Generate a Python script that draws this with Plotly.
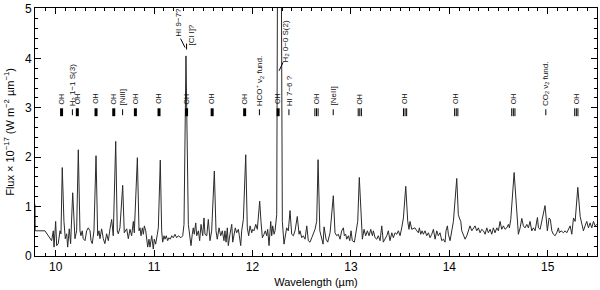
import plotly.graph_objects as go

# ---------------- spectrum data ----------------
wl_a = [9.790, 9.792, 9.891, 9.959, 9.976, 9.983, 10.000, 10.010, 10.026, 10.044,
        10.054, 10.067, 10.084, 10.098, 10.112, 10.122, 10.138, 10.152, 10.173, 10.186,
        10.196, 10.213, 10.230, 10.247, 10.257, 10.270, 10.280, 10.298, 10.315, 10.331,
        10.349, 10.359, 10.372, 10.389, 10.410, 10.427, 10.440, 10.450, 10.467, 10.484,
        10.500, 10.518, 10.535, 10.552, 10.569, 10.585, 10.610, 10.626, 10.636, 10.653,
        10.681, 10.697, 10.722, 10.738]
fx_a = [1.04, 0.51, 0.51, 0.31, 0.51, 0.18, 0.70, 0.21, 0.25, 0.51,
        0.45, 1.79, 0.70, 0.35, 0.45, 0.18, 0.55, 0.25, 1.28, 0.51,
        0.35, 0.51, 2.15, 0.51, 0.41, 0.51, 0.35, 0.31, 0.51, 0.57,
        0.51, 0.31, 0.25, 0.51, 2.03, 0.41, 0.51, 0.35, 0.55, 0.35,
        0.25, 0.45, 0.31, 0.55, 0.74, 0.41, 2.32, 0.51, 0.45, 0.57,
        1.43, 0.47, 0.55, 0.35]

wl_b = [10.755, 10.772, 10.789, 10.799, 10.830, 10.847, 10.857, 10.867, 10.881, 10.891,
        10.901, 10.915, 10.925, 10.935, 10.948, 10.958, 10.976, 10.992, 11.002, 11.016,
        11.033, 11.043, 11.063, 11.077, 11.087, 11.101, 11.111, 11.124, 11.138, 11.151,
        11.165, 11.179, 11.195, 11.212, 11.229, 11.246, 11.273, 11.291, 11.304, 11.324,
        11.348, 11.365, 11.375, 11.388, 11.398, 11.408, 11.423, 11.433, 11.450, 11.463,
        11.477, 11.494, 11.507, 11.517, 11.535, 11.551, 11.568, 11.585, 11.612, 11.629,
        11.642, 11.660, 11.677, 11.693, 11.710]
fx_b = [0.54, 0.41, 0.70, 0.47, 1.99, 0.51, 0.57, 0.41, 0.57, 0.44,
        0.61, 0.51, 0.34, 0.18, 0.34, 0.18, 0.41, 0.14, 0.34, 0.24,
        0.44, 0.57, 1.94, 0.51, 0.28, 0.41, 0.34, 0.41, 0.31, 0.37,
        0.34, 0.41, 0.37, 0.44, 0.37, 0.41, 0.37, 0.41, 0.64, 4.05,
        0.64, 0.41, 0.21, 0.44, 0.57, 0.44, 0.67, 0.41, 0.51, 0.31,
        0.64, 0.41, 0.77, 0.44, 0.41, 0.74, 0.31, 0.51, 1.72, 0.51,
        0.34, 0.57, 0.41, 0.51, 0.31]

wl_c = [11.720, 11.731, 11.744, 11.754, 11.771, 11.789, 11.799, 11.812, 11.825, 11.839,
        11.856, 11.866, 11.880, 11.890, 11.907, 11.931, 11.947, 11.961, 11.975, 11.992,
        12.002, 12.015, 12.033, 12.049, 12.073, 12.086, 12.100, 12.117, 12.130, 12.144,
        12.154, 12.168, 12.185, 12.195, 12.205, 12.219, 12.229, 12.246, 12.256, 12.290,
        12.303, 12.320, 12.337, 12.347, 12.364, 12.381, 12.398, 12.415, 12.432, 12.455,
        12.473, 12.483, 12.500, 12.516, 12.534, 12.551, 12.567, 12.584, 12.602, 12.618,
        12.635, 12.652, 12.666]
fx_c = [0.51, 0.28, 0.57, 0.21, 0.44, 0.64, 0.28, 0.41, 0.57, 0.47,
        0.54, 0.41, 0.21, 0.51, 0.74, 2.05, 0.57, 0.41, 0.61, 0.47,
        0.54, 0.51, 0.64, 0.54, 1.11, 0.70, 0.37, 0.44, 0.51, 0.41,
        0.54, 0.21, 0.70, 0.41, 0.61, 0.44, 0.51, 0.84, 7.00, 7.00,
        0.70, 0.24, 0.51, 0.57, 0.51, 0.92, 0.44, 0.41, 0.51, 0.80,
        0.44, 0.51, 0.37, 0.41, 0.34, 0.61, 0.31, 0.28, 0.37, 0.44,
        0.54, 0.70, 1.95]

wl_d = [12.684, 12.704, 12.717, 12.727, 12.747, 12.764, 12.788, 12.821, 12.838, 12.856,
        12.872, 12.889, 12.906, 12.923, 12.933, 12.947, 12.957, 12.974, 12.988, 13.001,
        13.014, 13.035, 13.049, 13.069, 13.085, 13.103, 13.116, 13.133, 13.150, 13.167,
        13.184, 13.201, 13.218, 13.228, 13.245, 13.262, 13.278, 13.296, 13.313, 13.329,
        13.347, 13.364, 13.380, 13.397, 13.415, 13.431, 13.448, 13.466, 13.482, 13.499,
        13.516, 13.533, 13.557, 13.577, 13.590, 13.600, 13.618, 13.641]
fx_d = [0.51, 0.31, 0.24, 0.59, 0.34, 0.28, 0.47, 1.22, 0.47, 0.41,
        0.44, 0.34, 0.51, 0.57, 0.41, 0.44, 0.34, 0.41, 0.31, 0.51,
        0.31, 0.28, 0.44, 0.70, 1.59, 0.70, 0.34, 0.54, 0.41, 0.51,
        0.41, 0.54, 0.41, 0.51, 0.37, 0.34, 0.41, 0.31, 0.61, 0.28,
        0.34, 0.41, 0.51, 0.31, 0.47, 0.37, 0.47, 0.44, 0.51, 0.41,
        0.57, 0.77, 1.41, 0.70, 0.54, 0.70, 0.54, 0.57]

wl_e = [13.650, 13.669, 13.685, 13.695, 13.709, 13.723, 13.736, 13.753, 13.770, 13.787,
        13.804, 13.821, 13.838, 13.855, 13.872, 13.888, 13.905, 13.923, 13.939, 13.956,
        13.966, 13.980, 13.990, 14.007, 14.024, 14.041, 14.075, 14.091, 14.101, 14.116,
        14.126, 14.142, 14.160, 14.177, 14.193, 14.210, 14.228, 14.244, 14.261, 14.278,
        14.295, 14.312, 14.329, 14.346, 14.363, 14.380, 14.396, 14.414, 14.431, 14.447,
        14.464, 14.482, 14.498, 14.515, 14.532, 14.549, 14.566, 14.583, 14.600]
fx_e = [0.57, 0.51, 0.47, 0.57, 0.44, 0.51, 0.44, 0.51, 0.41, 0.47,
        0.37, 0.44, 0.54, 0.34, 0.51, 0.41, 0.47, 0.31, 0.34, 0.28,
        0.51, 0.61, 0.44, 0.31, 0.47, 0.70, 1.57, 0.84, 0.77, 0.70,
        0.51, 0.44, 0.34, 0.41, 0.51, 0.61, 0.51, 0.57, 0.61, 0.51,
        0.57, 0.47, 0.54, 0.51, 0.44, 0.57, 0.47, 0.54, 0.44, 0.57,
        0.47, 0.57, 0.51, 0.70, 0.54, 0.61, 0.54, 0.57, 0.64]

wl_f = [14.610, 14.624, 14.658, 14.685, 14.701, 14.719, 14.736, 14.752, 14.769, 14.787,
        14.803, 14.820, 14.837, 14.854, 14.871, 14.895, 14.905, 14.922, 14.939, 14.972,
        14.996, 15.013, 15.026, 15.041, 15.057, 15.074, 15.091, 15.108, 15.118, 15.135,
        15.159, 15.176, 15.193, 15.210, 15.227, 15.244, 15.261, 15.278, 15.305, 15.329,
        15.346, 15.362, 15.379, 15.396, 15.413, 15.430, 15.447, 15.464, 15.481, 15.498]
fx_f = [0.57, 0.74, 1.69, 0.77, 0.44, 0.57, 0.76, 0.61, 0.57, 0.64,
        0.57, 0.70, 0.51, 0.57, 0.51, 0.78, 0.57, 0.54, 0.70, 1.02,
        0.51, 0.77, 0.74, 0.51, 0.44, 0.41, 0.47, 0.57, 0.47, 0.51,
        0.47, 0.51, 0.47, 0.54, 0.61, 0.44, 0.77, 0.70, 1.39, 0.80,
        0.67, 0.51, 0.61, 0.70, 0.57, 0.67, 0.57, 0.70, 0.61, 0.64]

# ---------------- line identifications ----------------
oh_lines = [10.06, 10.22, 10.41, 10.59, 10.81, 11.05, 11.33, 11.59, 11.92,
            12.26, 12.65, 13.09, 13.55, 14.07, 14.65, 15.29]
other_lines = [10.17, 10.68, 12.07, 12.37, 12.82, 14.98]
other_labels = ["H<sub>2</sub> 1−1 S(3)", "[NiII]", "HCO<sup>+</sup> ν<sub>2</sub> fund.",
                "HI 7−6 ?", "[NeII]", "CO<sub>2</sub> ν<sub>2</sub> fund."]
top_lines = [11.33, 12.28]
top_labels = [["HI 9−7?", "[Cl I]?"], ["H<sub>2</sub> 0−0 S(2)"]]

x_ticks = [10, 11, 12, 13, 14, 15]
y_ticks = [0, 1, 2, 3, 4, 5]

segments = [(wl_a, fx_a), (wl_b, fx_b), (wl_c, fx_c), (wl_d, fx_d), (wl_e, fx_e), (wl_f, fx_f)]
wave, flux = [], []
for i, (w, f) in enumerate(segments):
    assert len(w) == len(f), (i, len(w), len(f))
    wave += w
    flux += f

fig = go.Figure()
fig.add_trace(go.Scatter(x=wave, y=flux, mode="lines",
                         line=dict(color="#2a2a2a", width=1), hoverinfo="skip"))

XR = [9.79, 15.50]
PX = 562 / (XR[1] - XR[0])  # pixels per micron
shapes, annots = [], []
FONT_OH = dict(family="Liberation Sans, Arial, sans-serif", size=7, color="#111")
FONT = dict(family="Liberation Sans, Arial, sans-serif", size=8, color="#111")

# OH markers
for lam in oh_lines:
    if lam < 12.5:
        shapes.append(dict(type="line", xref="x", yref="y", x0=lam, x1=lam, y0=2.83, y1=2.99,
                           line=dict(color="black", width=3)))
    else:
        for off in (-1.6, 0, 1.6):
            shapes.append(dict(type="line", xref="x", yref="y", x0=lam + off / PX, x1=lam + off / PX,
                               y0=2.83, y1=2.99, line=dict(color="black", width=1)))
    annots.append(dict(x=lam, y=3.03, xref="x", yref="y", text="OH", textangle=-90,
                       showarrow=False, xanchor="center", yanchor="bottom", font=FONT_OH))

# other markers
for lam, lab in zip(other_lines, other_labels):
    shapes.append(dict(type="line", xref="x", yref="y", x0=lam, x1=lam, y0=2.85, y1=2.97,
                       line=dict(color="black", width=1)))
    annots.append(dict(x=lam, y=3.0, xref="x", yref="y", text=lab, textangle=-90,
                       showarrow=False, xanchor="center", yanchor="bottom", font=FONT))

# raised labels with leaders
lam = top_lines[0]
shapes.append(dict(type="line", xref="x", yref="y", x0=lam, x1=lam, y0=4.18, y1=4.30,
                   line=dict(color="black", width=1)))
shapes.append(dict(type="line", xref="x", yref="y", x0=lam - 1.5 / PX, x1=lam - 6 / PX,
                   y0=4.22, y1=4.40, line=dict(color="black", width=1)))
annots.append(dict(x=lam - 8 / PX, y=4.40, xref="x", yref="y", text=top_labels[0][0], textangle=-90,
                   showarrow=False, xanchor="center", yanchor="bottom", font=FONT))
annots.append(dict(x=lam + 4 / PX, y=4.22, xref="x", yref="y", text=top_labels[0][1], textangle=-90,
                   showarrow=False, xanchor="center", yanchor="bottom", font=FONT))
lam = top_lines[1]
shapes.append(dict(type="line", xref="x", yref="y", x0=lam - 1 / PX, x1=lam + 3 / PX,
                   y0=3.75, y1=3.92, line=dict(color="black", width=1)))
annots.append(dict(x=lam + 6 / PX, y=3.88, xref="x", yref="y", text=top_labels[1][0], textangle=-90,
                   showarrow=False, xanchor="center", yanchor="bottom", font=FONT))

axis_common = dict(showline=True, linecolor="black", linewidth=1, mirror="allticks",
                   ticks="inside", ticklen=6, tickcolor="black", showgrid=False, zeroline=False,
                   tickfont=dict(size=12, color="black"), ticklabeloverflow="allow")

fig.update_layout(
    width=600, height=290,
    margin=dict(l=35, r=3, t=2, b=34),
    plot_bgcolor="white", paper_bgcolor="white",
    showlegend=False,
    font=dict(family="Liberation Sans, Arial, sans-serif", color="black"),
    shapes=shapes, annotations=annots,
    xaxis=dict(range=XR, tickvals=x_ticks, ticktext=[str(v) for v in x_ticks],
               minor=dict(ticks="inside", ticklen=3, dtick=0.1, tick0=10, tickcolor="black"),
               title=dict(text="Wavelength (µm)", font=dict(size=11), standoff=4),
               **axis_common),
    yaxis=dict(range=[0, 5.02], tickvals=y_ticks, ticktext=[str(v) for v in y_ticks],
               minor=dict(ticks="inside", ticklen=3, dtick=0.2, tick0=0, tickcolor="black"),
               title=dict(text="Flux × 10<sup>−17</sup> (W m<sup>−2</sup> µm<sup>−1</sup>)",
                          font=dict(size=11), standoff=8),
               **axis_common),
)

fig.write_html("out.html", config={"displayModeBar": False, "staticPlot": True},
               post_script="document.body.style.margin='0';document.body.style.padding='0';")
